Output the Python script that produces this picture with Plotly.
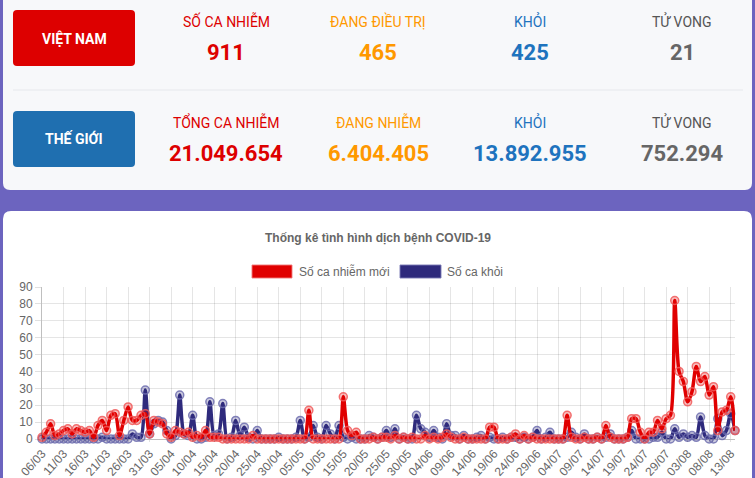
import pandas as pd
import plotly.graph_objects as go

# ---------------- data ----------------
dates = [d.strftime("%d/%m") for d in pd.date_range("2020-03-06", "2020-08-14", freq="D")]

new_cases = [1, 4, 9, 2, 3, 5, 6, 3, 6, 5, 4, 5, 1, 8, 11, 5, 14, 15, 2, 11,
             19, 11, 11, 14, 15, 3, 11, 10, 9, 3, 1, 5, 4, 3, 4, 1, 2, 1, 5, 1,
             1, 1, 0, 0, 0, 0, 0, 0, 0, 2, 0, 0, 0, 0, 0, 0, 0, 0, 0, 0,
             0, 0, 17, 0, 0, 0, 0, 0, 0, 0, 25, 5, 2, 4, 0, 0, 0, 1, 0, 1,
             1, 0, 2, 0, 1, 0, 1, 0, 0, 2, 0, 1, 0, 1, 3, 1, 0, 0, 1, 0,
             0, 0, 0, 0, 7, 7, 0, 0, 0, 1, 3, 0, 2, 0, 1, 0, 0, 0, 0, 0,
             0, 0, 14, 1, 0, 0, 1, 0, 0, 1, 0, 8, 1, 0, 0, 0, 1, 12, 12, 4,
             0, 4, 4, 11, 6, 12, 14, 82, 40, 34, 22, 28, 43, 34, 37, 26, 31, 5, 16, 17,
             25, 5]

recovered = [0, 0, 0, 0, 0, 0, 0, 0, 0, 0, 0, 0, 0, 0, 1, 0, 0, 0, 0, 0,
             0, 3, 1, 1, 29, 3, 9, 11, 10, 5, 0, 2, 26, 3, 2, 14, 0, 0, 1, 22,
             2, 3, 21, 0, 1, 11, 2, 7, 1, 0, 5, 0, 0, 0, 0, 1, 0, 0, 0, 1,
             11, 0, 1, 8, 1, 0, 8, 3, 0, 8, 1, 0, 1, 0, 0, 0, 2, 1, 0, 1,
             5, 1, 6, 0, 1, 0, 0, 14, 6, 4, 1, 5, 1, 0, 9, 2, 2, 0, 2, 0,
             0, 1, 2, 0, 1, 0, 0, 1, 0, 1, 1, 0, 1, 0, 1, 5, 0, 1, 4, 0,
             0, 0, 1, 4, 1, 0, 3, 0, 0, 1, 0, 1, 3, 0, 0, 0, 1, 5, 0, 0,
             0, 0, 1, 1, 4, 0, 0, 6, 1, 3, 1, 2, 1, 13, 2, 0, 0, 12, 2, 5,
             15, 5]

series_names = ["Số ca nhiễm mới", "Số ca khỏi"]
chart_title = "Thống kê tình hình dịch bệnh COVID-19"

vn_labels = ["SỐ CA NHIỄM", "ĐANG ĐIỀU TRỊ", "KHỎI", "TỬ VONG"]
vn_values = ["911", "465", "425", "21"]
world_labels = ["TỔNG CA NHIỄM", "ĐANG NHIỄM", "KHỎI", "TỬ VONG"]
world_values = ["21.049.654", "6.404.405", "13.892.955", "752.294"]

tick_labels = dates[::5]

# ---------------- geometry helpers ----------------
W, H = 755, 478
ML, MR, MT, MB = 42, 20, 287, 39
PW, PH = W - ML - MR, H - MT - MB


def X(px):
    return (px - ML) / PW


def Y(py):
    return 1 - (py - MT) / PH


def rrect(x0, y0, x1, y1, r, color, line=None):
    pts = [
        ("M", [(x0 + r, y0)]), ("L", [(x1 - r, y0)]), ("Q", [(x1, y0), (x1, y0 + r)]),
        ("L", [(x1, y1 - r)]), ("Q", [(x1, y1), (x1 - r, y1)]),
        ("L", [(x0 + r, y1)]), ("Q", [(x0, y1), (x0, y1 - r)]),
        ("L", [(x0, y0 + r)]), ("Q", [(x0, y0), (x0 + r, y0)]),
    ]
    path = ""
    for cmd, ps in pts:
        path += cmd + " " + " ".join(f"{X(a):.5f},{Y(b):.5f}" for a, b in ps) + " "
    path += "Z"
    return dict(type="path", xref="paper", yref="paper", path=path,
                fillcolor=color, line=dict(width=0 if line is None else 1,
                                           color=line or color), layer="below")


RED = "#dd0000"
NAVY = "#2e2a7c"

fig = go.Figure()

fig.add_trace(go.Scatter(
    x=dates, y=recovered, name=series_names[1], mode="lines+markers",
    line=dict(color=NAVY, width=3.5, shape="spline", smoothing=0.8),
    marker=dict(size=8, color="rgba(46,42,124,0.25)",
                line=dict(color="rgba(110,110,175,0.85)", width=1.5)),
    cliponaxis=False, showlegend=False))

fig.add_trace(go.Scatter(
    x=dates, y=new_cases, name=series_names[0], mode="lines+markers",
    line=dict(color="#e00000", width=3.5, shape="spline", smoothing=0.8),
    marker=dict(size=8, color="rgba(230,0,0,0.25)",
                line=dict(color="rgba(240,90,90,0.85)", width=1.5)),
    cliponaxis=False, showlegend=False))

shapes = [
    rrect(3, -20, 752, 190, 7, "#f7f8fa"),
    rrect(3, 211, 752, 500, 8, "#ffffff"),
    dict(type="line", xref="paper", yref="paper", x0=X(13), x1=X(743), y0=Y(90), y1=Y(90),
         line=dict(color="#e6e8ec", width=1), layer="below"),
    rrect(13, 10, 135, 66, 4, RED),
    rrect(13, 111, 135, 167, 4, "#1f6fb0"),
    # legend boxes
    dict(type="rect", xref="paper", yref="paper", x0=X(252), x1=X(292), y0=Y(265), y1=Y(278),
         fillcolor="#e00000", line=dict(color="rgba(240,120,120,0.9)", width=1), layer="above"),
    dict(type="rect", xref="paper", yref="paper", x0=X(400), x1=X(441), y0=Y(265), y1=Y(278),
         fillcolor=NAVY, line=dict(color="rgba(120,120,180,0.9)", width=1), layer="above"),
]

ann = []


def text(px, py, s, size, color, family="Roboto", xanchor="center"):
    ann.append(dict(x=X(px), y=Y(py), xref="paper", yref="paper", text=s, showarrow=False,
                    xanchor=xanchor, yanchor="middle",
                    font=dict(family=family, size=size, color=color)))


text(74, 38, "<b>VIỆT NAM</b>", 14, "#ffffff")
text(74, 139, "<b>THẾ GIỚI</b>", 14, "#ffffff")

col_x = [226, 378, 530, 682]
lab_col = [RED, "#ff9800", "#1e73be", "#555555"]
val_col = [RED, "#ff9800", "#1e73be", "#666666"]
for i in range(4):
    text(col_x[i], 21, vn_labels[i], 14, lab_col[i])
    text(col_x[i], 52, f"<b>{vn_values[i]}</b>", 22, val_col[i])
    text(col_x[i], 122, world_labels[i], 14, lab_col[i])
    text(col_x[i], 153, f"<b>{world_values[i]}</b>", 22, val_col[i])

text(378, 238, f"<b>{chart_title}</b>", 12, "#666666", family="Liberation Sans")
text(297, 271.5, series_names[0], 12, "#666666", family="Liberation Sans", xanchor="left")
text(445, 271.5, series_names[1], 12, "#666666", family="Liberation Sans", xanchor="left")

fig.update_layout(
    width=W, height=H, margin=dict(l=ML, r=MR, t=MT, b=MB, autoexpand=False),
    paper_bgcolor="#6c64bf", plot_bgcolor="rgba(0,0,0,0)",
    shapes=shapes, annotations=ann, showlegend=False,
    font=dict(family="Liberation Sans", size=12, color="#666666"),
    xaxis=dict(type="category", range=[0, len(dates) - 1], tickmode="array",
               tickvals=tick_labels, ticktext=tick_labels, tickangle=-48,
               showgrid=True, gridcolor="rgba(0,0,0,0.1)", gridwidth=1,
               ticks="outside", ticklen=2, tickcolor="rgba(0,0,0,0.12)",
               tickfont=dict(size=12, color="#666666"), automargin=False,
               showline=False, zeroline=False),
    yaxis=dict(range=[0, 90], dtick=10, showgrid=True, gridcolor="rgba(0,0,0,0.1)",
               zeroline=True, zerolinecolor="rgba(0,0,0,0.25)", zerolinewidth=1,
               showline=True, linecolor="rgba(0,0,0,0.25)", linewidth=1,
               ticks="outside", ticklen=6, tickcolor="rgba(0,0,0,0.12)",
               tickfont=dict(size=12, color="#666666"), automargin=False),
)

fig.write_html("out.html")
